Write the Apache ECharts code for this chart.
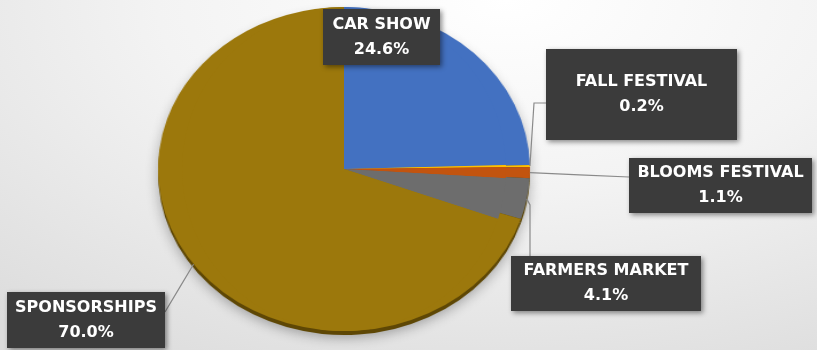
<!DOCTYPE html>
<html>
<head>
<meta charset="utf-8">
<script src="https://cdn.jsdelivr.net/npm/echarts@6/dist/echarts.min.js"></script>
<style>
  html, body { margin: 0; padding: 0; }
  #wrap {
    position: relative; width: 817px; height: 350px; overflow: hidden;
    background: radial-gradient(ellipse 95% 120% at 62% 0%, #ffffff 0%, #f3f3f3 45%, #dcdcdc 100%);
  }
  #pie, #labels { position: absolute; left: 0; top: 0; width: 817px; height: 350px; }
  #pie { transform: scaleX(1.148); transform-origin: 344px 168px; }
</style>
</head>
<body>
<div id="wrap">
  <div id="pie"></div>
  <div id="labels"></div>
</div>
<script>
// ---- data ----
var categories = ['CAR SHOW', 'FALL FESTIVAL', 'BLOOMS FESTIVAL', 'FARMERS MARKET', 'SPONSORSHIPS'];
var shares = [24.6, 0.2, 1.1, 4.1, 70.0];

// ---- styling ----
var topColors = ['#4371C1', '#FFC000', '#C2540F', '#6D6D6D', '#9C780C'];
var rimColors = ['#2c4c85', '#5e4705', '#5e4705', '#5e4705', '#5e4705'];
var CX = 344, CY = 169, R = 162, SX = 1.148;

var boxes = [
  { x: 381.5, y: 37,    w: 117, h: 56 },
  { x: 641.5, y: 94.5,  w: 191, h: 91 },
  { x: 720.5, y: 185.5, w: 183, h: 55 },
  { x: 606,   y: 283.5, w: 190, h: 55 },
  { x: 86,    y: 320,   w: 158, h: 56 }
];

function makeData(colors, withLabel) {
  return categories.map(function (c, i) {
    var d = { name: c, value: shares[i], itemStyle: { color: colors[i] } };
    if (withLabel) {
      d.label = { width: boxes[i].w, height: boxes[i].h };
      if (i === 0) d.labelLine = { show: false };
    }
    return d;
  });
}

var pieChart = echarts.init(document.getElementById('pie'), null, { renderer: 'canvas' });
pieChart.setOption({
  animation: false,
  series: [
    {
      type: 'pie', center: [CX, CY + 4], radius: R, startAngle: 90, clockwise: true,
      label: { show: false }, labelLine: { show: false }, silent: true,
      itemStyle: { borderWidth: 0, shadowBlur: 12, shadowColor: 'rgba(0,0,0,0.3)', shadowOffsetY: 3 },
      data: makeData(rimColors, false), z: 1
    },
    {
      type: 'pie', center: [CX, CY], radius: R, startAngle: 90, clockwise: true,
      label: { show: false }, labelLine: { show: false }, silent: true,
      itemStyle: { borderWidth: 0 },
      data: makeData(topColors, false), z: 2
    }
  ]
});

var labelChart = echarts.init(document.getElementById('labels'), null, { renderer: 'canvas' });
labelChart.setOption({
  animation: false,
  series: [{
    type: 'pie', center: [CX, CY], radius: R, startAngle: 90, clockwise: true,
    avoidLabelOverlap: false, silent: true,
    itemStyle: { color: 'rgba(0,0,0,0)', borderWidth: 0 },
    label: {
      show: true, position: 'outside',
      formatter: function (p) { return p.name + '\n' + p.percent.toFixed(1) + '%'; },
      color: '#ffffff', fontFamily: 'DejaVu Sans', fontWeight: 'bold', fontSize: 16, lineHeight: 25,
      align: 'center', verticalAlign: 'middle',
      backgroundColor: '#3b3b3b', padding: 0,
      shadowBlur: 5, shadowColor: 'rgba(0,0,0,0.45)', shadowOffsetX: 2, shadowOffsetY: 2
    },
    labelLine: { show: true, lineStyle: { color: '#8a8a8a', width: 1.2 } },
    labelLayout: function (p) {
      var i = p.dataIndex, b = boxes[i];
      var res = { x: b.x, y: b.y, align: 'center', verticalAlign: 'middle' };
      if (i > 0 && p.labelLinePoints) {
        var s = p.labelLinePoints[0];
        var sx = CX + (s[0] - CX) * SX, sy = s[1];
        var pts, ex, ey;
        if (i === 1) pts = [[sx, sy], [534, 103], [b.x - b.w / 2, 103]];
        else if (i === 2) { ex = b.x - b.w / 2; ey = 177; pts = [[sx, sy], [(sx + ex) / 2, (sy + ey) / 2], [ex, ey]]; }
        else if (i === 3) pts = [[sx, sy], [530, 205], [530, b.y - b.h / 2]];
        else { ex = b.x + b.w / 2; ey = 312; pts = [[sx, sy], [(sx + ex) / 2, (sy + ey) / 2], [ex, ey]]; }
        res.labelLinePoints = pts;
      }
      return res;
    },
    data: makeData(topColors, true)
  }]
});
</script>
</body>
</html>
